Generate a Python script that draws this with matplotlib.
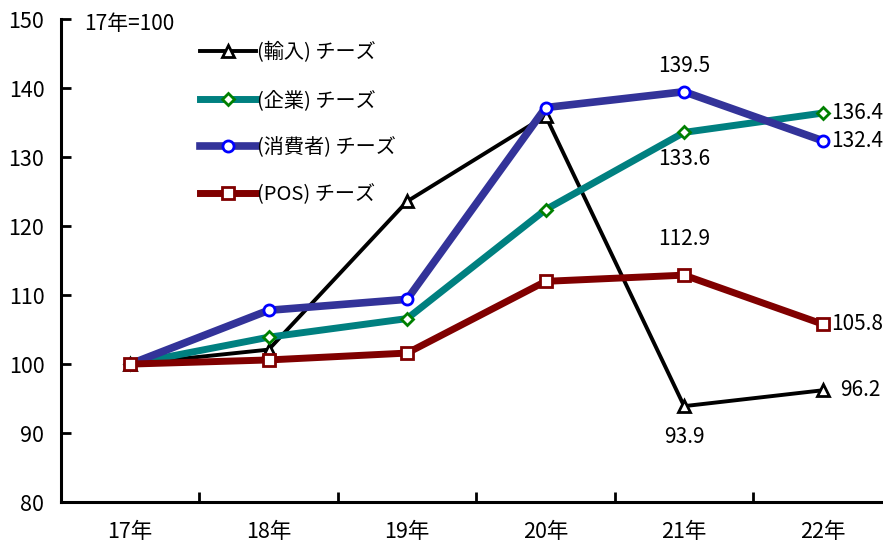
import matplotlib.pyplot as plt
from matplotlib.ticker import FixedLocator

plt.rcParams['font.family'] = ['Noto Sans CJK JP', 'DejaVu Sans']

years = ['17年', '18年', '19年', '20年', '21年', '22年']
imported = [100, 102.1, 123.6, 136.0, 93.9, 96.2]
business = [100, 103.9, 106.6, 122.4, 133.6, 136.4]
consumer = [100, 107.8, 109.4, 137.2, 139.5, 132.4]
pos = [100, 100.6, 101.6, 112.0, 112.9, 105.8]

series = [
    ('(輸入) チーズ', imported, '#000000', 2.8, '^', '#000000'),
    ('(企業) チーズ', business, '#008080', 5.0, 'D', '#008000'),
    ('(消費者) チーズ', consumer, '#333399', 5.5, 'o', '#0000ff'),
    ('(POS) チーズ', pos, '#800000', 5.0, 's', '#800000'),
]

fig = plt.figure(figsize=(8.83, 5.44), dpi=100)
ax = fig.add_axes([0.069, 0.0772, 0.941, 0.8873])

x = list(range(len(years)))
for label, vals, col, lw, mk, mcol in series:
    ms = 6.5 if mk == 'D' else 8
    ax.plot(x, vals, color=col, linewidth=lw, marker=mk, markersize=ms,
            markerfacecolor='white', markeredgecolor=mcol, markeredgewidth=2,
            label=label, solid_joinstyle='miter')

ax.set_xlim(-0.5, 5.5)
ax.set_ylim(80, 150)
ax.set_yticks(range(80, 151, 10))
ax.set_xticks(x)
ax.set_xticklabels(years)
ax.xaxis.set_minor_locator(FixedLocator([0.5, 1.5, 2.5, 3.5, 4.5]))
ax.tick_params(axis='x', which='major', length=0, pad=14, labelsize=15.5)
ax.tick_params(axis='x', which='minor', direction='in', length=7, width=2)
ax.tick_params(axis='y', direction='in', length=7, width=2, pad=12, labelsize=15.5)
for s in ['top', 'right']:
    ax.spines[s].set_visible(False)
for s in ['left', 'bottom']:
    ax.spines[s].set_linewidth(2.2)

# value labels
fs = 15
ax.text(4, consumer[4] + 3.7, f'{consumer[4]:.1f}', ha='center', va='center', fontsize=fs)
ax.text(4, business[4] - 3.9, f'{business[4]:.1f}', ha='center', va='center', fontsize=fs)
ax.text(4, pos[4] + 5.2, f'{pos[4]:.1f}', ha='center', va='center', fontsize=fs)
ax.text(4, imported[4] - 4.5, f'{imported[4]:.1f}', ha='center', va='center', fontsize=fs)
ax.text(5.06, business[5], f'{business[5]:.1f}', ha='left', va='center', fontsize=fs)
ax.text(5.06, consumer[5], f'{consumer[5]:.1f}', ha='left', va='center', fontsize=fs)
ax.text(5.06, pos[5], f'{pos[5]:.1f}', ha='left', va='center', fontsize=fs)
ax.text(5.13, imported[5], f'{imported[5]:.1f}', ha='left', va='center', fontsize=fs)

fig.text(0.095, 0.955, '17年=100', ha='left', va='center', fontsize=15)

ax.legend(loc='upper left', bbox_to_anchor=(0.226, 0.922), bbox_transform=fig.transFigure,
          frameon=False, fontsize=14.5, handlelength=2.8, handletextpad=0.05,
          labelspacing=1.3, borderaxespad=0, borderpad=0)

fig.savefig('out.png', dpi=100)
